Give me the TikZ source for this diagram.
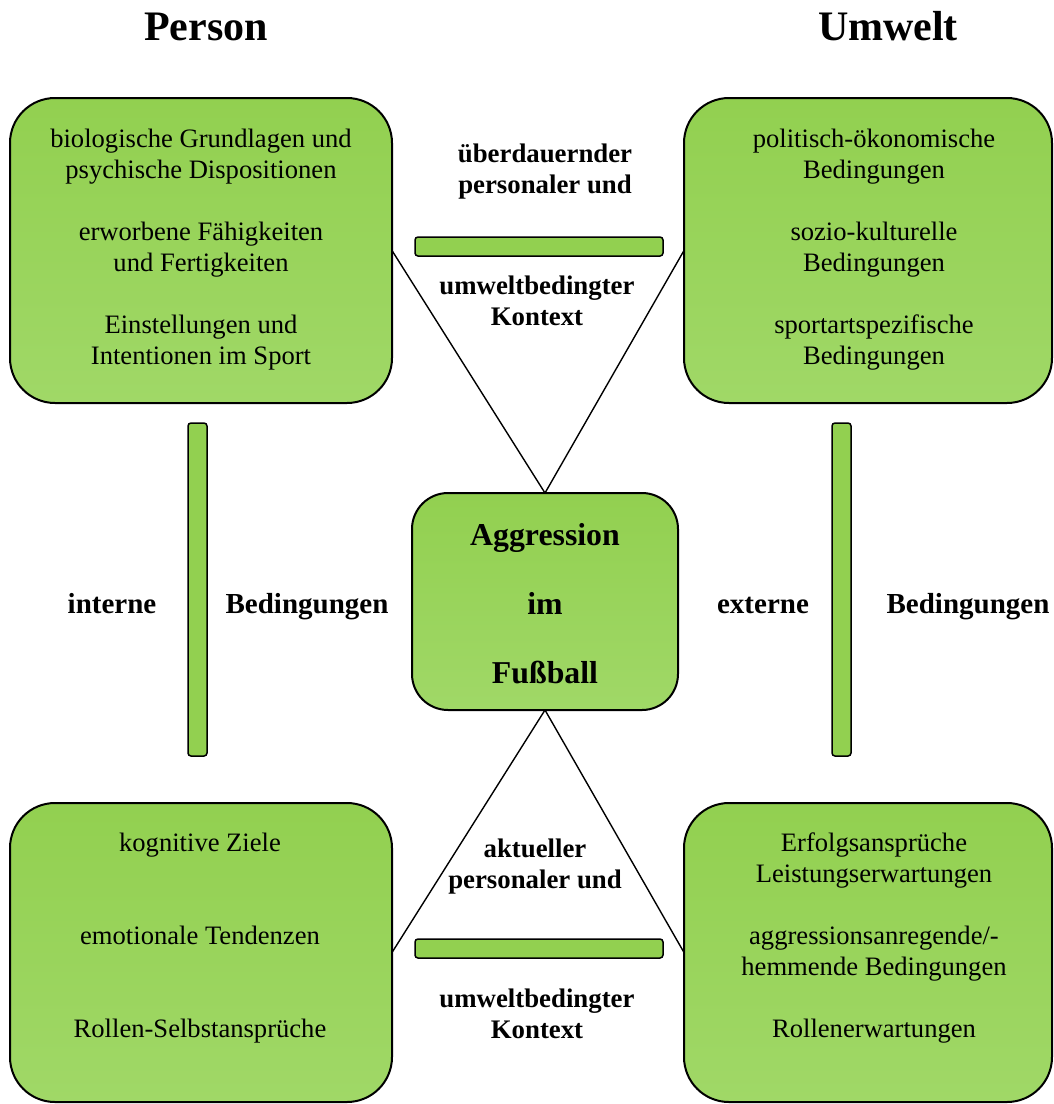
\documentclass[tikz,border=0pt]{standalone}
\usepackage{fontspec}
\setmainfont{Liberation Serif}
\definecolor{leaf}{HTML}{92D050}
\definecolor{leaflight}{HTML}{A0D867}
\begin{document}
\begin{tikzpicture}[x=1pt,y=-1pt,
  panel/.style={draw=black, line width=2pt, rounded corners=45pt,
    top color=leaf, bottom color=leaflight, anchor=north west,
    inner sep=0pt, outer sep=0pt},
  corebox/.style={panel, rounded corners=36pt},
  bar/.style={draw=black, line width=1.5pt, rounded corners=3pt,
    fill=leaf, anchor=north west, inner sep=0pt, outer sep=0pt},
  link/.style={draw=black, line width=1.4pt},
  body/.style={font=\fontsize{26.6}{31}\selectfont, align=center,
    anchor=base, inner sep=0pt},
  label/.style={font=\fontsize{26.8}{30.5}\selectfont\bfseries,
    align=center, anchor=base, inner sep=0pt},
  side/.style={font=\fontsize{29}{31}\selectfont\bfseries,
    anchor=base, inner sep=0pt},
  coretext/.style={font=\fontsize{31.8}{69}\selectfont\bfseries,
    align=center, anchor=base, inner sep=0pt},
  heading/.style={font=\fontsize{42}{48}\selectfont\bfseries,
    anchor=base, inner sep=0pt}]

% page frame
\useasboundingbox (0,0) rectangle (1054,1104);

% column headings
\node[heading] (hperson) at (206,40) {Person};
\node[heading] (humwelt) at (888,40) {Umwelt};

% four condition panels and the central box
\node[panel, minimum width=382pt, minimum height=305pt] (tl) at (10,98) {};
\node[panel, minimum width=368pt, minimum height=305pt] (tr) at (684,98) {};
\node[panel, minimum width=382pt, minimum height=299pt] (bl) at (10,803) {};
\node[panel, minimum width=368pt, minimum height=299pt] (br) at (684,803) {};
\node[corebox, minimum width=266pt, minimum height=217pt] (core) at (412,493) {};

% connecting lines to the central box
\draw[link] (tl.east) -- (core.north);
\draw[link] (tr.west) -- (core.north);
\draw[link] (bl.east) -- (core.south);
\draw[link] (br.west) -- (core.south);

% separator bars
\node[bar, minimum width=248pt, minimum height=19pt] (bartop) at (415,237) {};
\node[bar, minimum width=248pt, minimum height=19pt] (barbot) at (415,939) {};
\node[bar, minimum width=19pt, minimum height=333pt] (barleft) at (188,423) {};
\node[bar, minimum width=19pt, minimum height=333pt] (barright) at (832,423) {};

% panel texts (placed by the baseline of their last line)
\node[body] (ttl) at (201,364) {biologische Grundlagen und\\psychische Dispositionen\\[31pt]erworbene Fähigkeiten\\und Fertigkeiten\\[31pt]Einstellungen und\\Intentionen im Sport};
\node[body] (ttr) at (874,364) {politisch-ökonomische\\Bedingungen\\[31pt]sozio-kulturelle\\Bedingungen\\[31pt]sportartspezifische\\Bedingungen};
\node[body] (tbl) at (200,1037) {kognitive Ziele\\[62pt]emotionale Tendenzen\\[62pt]Rollen-Selbstansprüche};
\node[body] (tbr) at (874,1037) {Erfolgsansprüche\\Leistungserwartungen\\[31pt]aggressionsanregende/-\\hemmende Bedingungen\\[31pt]Rollenerwartungen};

% central text
\node[coretext] (tcore) at (545,683) {Aggression\\im\\Fußball};

% context labels
\node[label] (ctxtop1) at (545,193) {überdauernder\\personaler und};
\node[label] (ctxtop2) at (537,325) {umweltbedingter\\Kontext};
\node[label] (ctxbot1) at (535,888) {aktueller\\personaler und};
\node[label] (ctxbot2) at (537,1038) {umweltbedingter\\Kontext};

% internal / external conditions
\node[side] (intern) at (112,613) {interne};
\node[side] (internb) at (307,613) {Bedingungen};
\node[side] (extern) at (763,613) {externe};
\node[side] (externb) at (968,613) {Bedingungen};
\end{tikzpicture}
\end{document}
